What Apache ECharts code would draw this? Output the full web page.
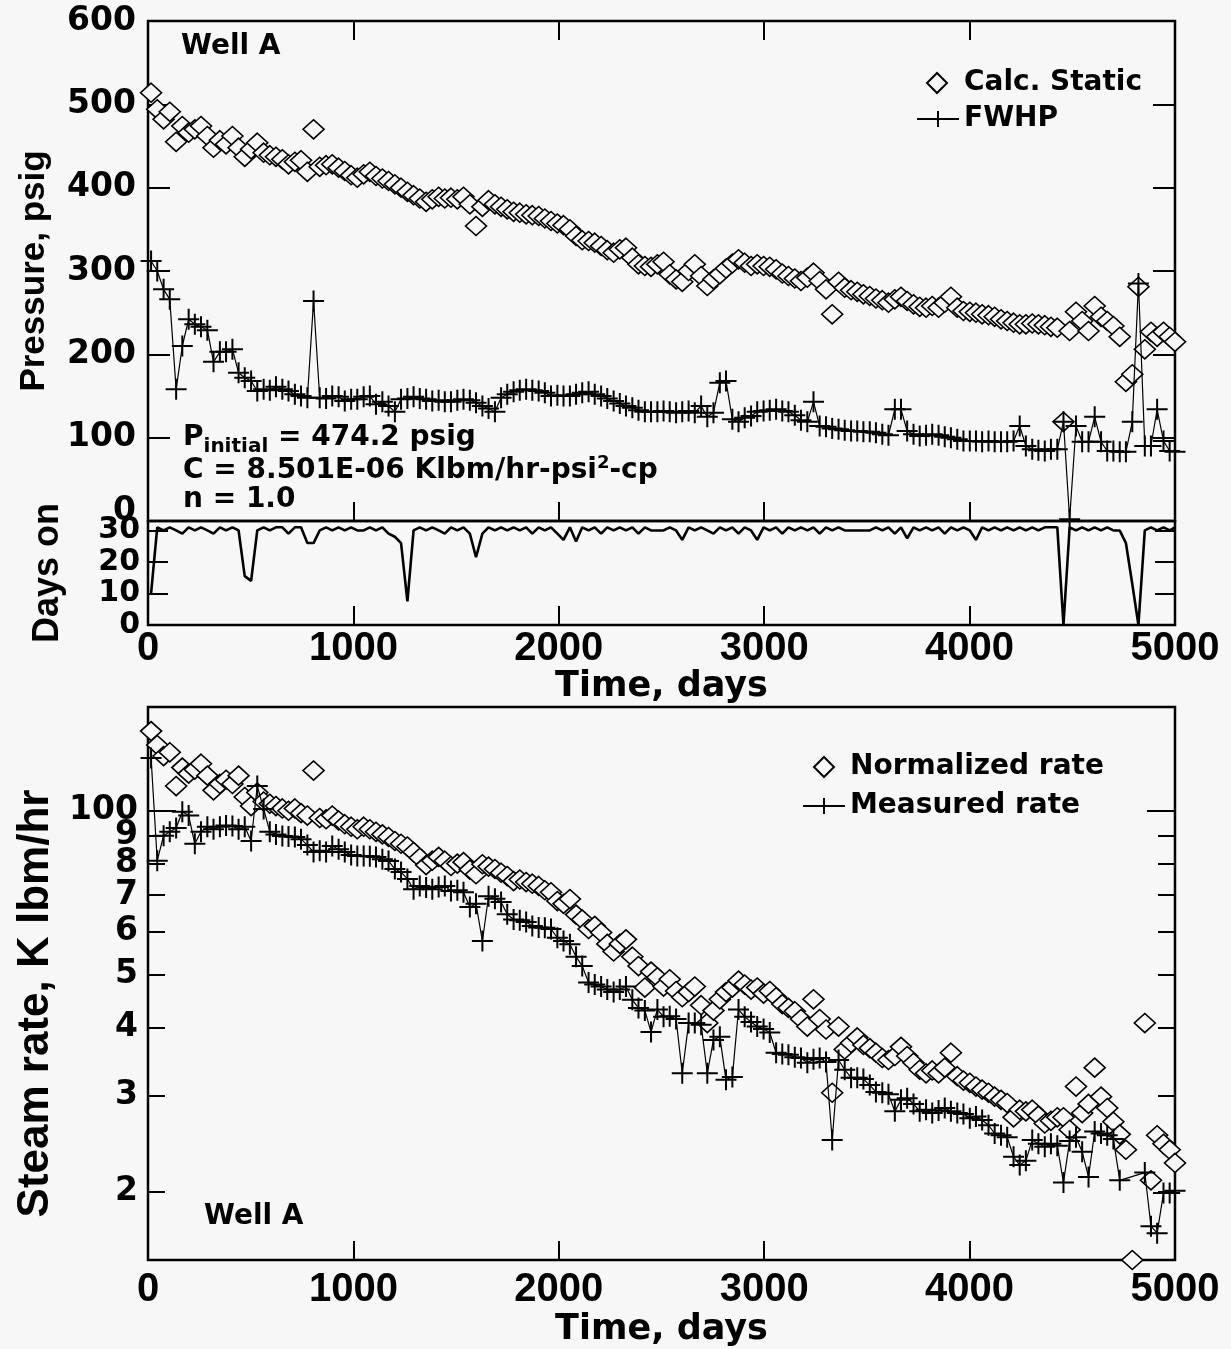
<!DOCTYPE html>
<html>
<head>
<meta charset="utf-8">
<title>Well A - pressure, days on and steam rate</title>
<script src="https://cdn.jsdelivr.net/npm/echarts@6/dist/echarts.min.js"></script>
<style>
  html, body { margin: 0; padding: 0; background: #f7f7f7; }
  #chart { width: 1231px; height: 1349px; }
</style>
</head>
<body>
<div id="chart"></div>
<script>
// monthly sample times, days since start
const days = [
  15, 45, 76, 106, 137, 167, 198, 228, 258, 289,
  319, 350, 380, 411, 441, 471, 502, 532, 563, 593,
  623, 654, 684, 715, 745, 776, 806, 836, 867, 897,
  928, 958, 989, 1019, 1050, 1080, 1110, 1141, 1171, 1202,
  1232, 1263, 1293, 1323, 1354, 1384, 1415, 1445, 1475, 1506,
  1536, 1567, 1597, 1628, 1658, 1689, 1719, 1749, 1780, 1810,
  1841, 1871, 1902, 1932, 1962, 1993, 2023, 2054, 2084, 2114,
  2145, 2175, 2206, 2236, 2267, 2297, 2327, 2358, 2388, 2419,
  2449, 2480, 2510, 2540, 2571, 2601, 2632, 2662, 2693, 2723,
  2753, 2784, 2814, 2845, 2875, 2905, 2936, 2966, 2997, 3027,
  3058, 3088, 3118, 3149, 3179, 3210, 3240, 3270, 3301, 3331,
  3362, 3392, 3423, 3453, 3483, 3514, 3544, 3575, 3605, 3636,
  3666, 3696, 3727, 3757, 3788, 3818, 3849, 3879, 3909, 3940,
  3970, 4001, 4031, 4061, 4092, 4122, 4153, 4183, 4214, 4244,
  4274, 4305, 4335, 4366, 4396, 4427, 4457, 4487, 4518, 4548,
  4579, 4609, 4640, 4670, 4700, 4731, 4761, 4792, 4822, 4853,
  4883, 4913, 4944, 4974, 5000
];

// calculated static pressure, psig
const staticP = [
  514, 494, 482, 491, 455, 474, 466, 470, 474, 462,
  448, 457, 452, 462, 448, 437, 446, 454, 442, 439,
  437, 434, 428, 431, 433, 419, 470, 425, 427, 428,
  424, 420, 415, 412, 416, 419, 414, 411, 408, 404,
  400, 395, 391, 387, 383, 386, 389, 387, 388, 386,
  389, 380, 354, 377, 385, 380, 377, 374, 371, 370,
  368, 367, 366, 363, 360, 357, 355, 350, 342, 337,
  336, 334, 330, 325, 322, 326, 328, 316, 308, 306,
  305, 308, 311, 296, 290, 287, 300, 308, 294, 282,
  290, 296, 303, 309, 314, 310, 306, 308, 306, 305,
  302, 297, 294, 291, 288, 292, 298, 288, 278, 248,
  287, 280, 277, 275, 272, 270, 267, 265, 262, 266,
  269, 264, 260, 257, 256, 258, 256, 262, 269, 256,
  252, 251, 250, 248, 247, 245, 242, 240, 238, 236,
  236, 237, 236, 235, 233, 232, 119, 228, 251, 240,
  228, 258, 245, 240, 234, 221, 167, 176, 281, 206,
  227, 221, 227, 221, 215
];

// flowing wellhead pressure, psig
const fwhp = [
  312, 300, 278, 266, 158, 210, 242, 236, 233, 229,
  191, 203, 203, 206, 178, 172, 168, 156, 158, 157,
  161, 158, 156, 152, 150, 148, 264, 148, 147, 150,
  149, 144, 146, 146, 149, 150, 140, 143, 138, 131,
  146, 147, 149, 147, 146, 144, 145, 143, 143, 145,
  146, 145, 142, 138, 135, 131, 148, 152, 155, 157,
  158, 157, 156, 154, 150, 151, 150, 150, 152, 154,
  155, 152, 150, 147, 144, 141, 138, 136, 133, 131,
  131, 131, 132, 131, 130, 131, 132, 130, 138, 125,
  130, 166, 168, 122, 119, 124, 126, 131, 132, 133,
  134, 132, 131, 127, 121, 119, 143, 114, 113, 111,
  110, 109, 108, 108, 107, 107, 106, 104, 103, 134,
  134, 108, 104, 102, 103, 104, 103, 101, 100, 98,
  96, 96, 96, 95, 96, 95, 95, 95, 96, 114,
  90, 86, 85, 84, 86, 86, 119, 2, 114, 95,
  95, 125, 95, 84, 84, 83, 83, 119, 285, 90,
  90, 134, 96, 84, 83
];

// days on production per month
const daysOn = [
  10, 31, 30, 31, 30, 29, 31, 30, 31, 30,
  29, 31, 30, 31, 30, 15.5, 14, 30, 31, 30,
  31, 31, 29, 31, 31, 26, 26, 30, 31, 30,
  31, 30, 31, 30, 30, 31, 30, 31, 29, 28,
  26, 7.5, 30, 31, 30, 31, 30, 29, 31, 30,
  31, 29, 21.5, 29, 31, 30, 31, 30, 31, 30,
  31, 29, 31, 30, 31, 29, 27, 31, 26.5, 31,
  30, 31, 29, 31, 30, 31, 30, 31, 29, 31,
  30, 30, 30, 31, 30, 27, 31, 30, 31, 30,
  29, 31, 30, 31, 29, 31, 30, 27, 31, 30,
  31, 29, 31, 30, 31, 30, 31, 29, 31, 30,
  31, 30, 30, 30, 30, 30, 31, 30, 31, 29,
  31, 27.5, 31, 30, 31, 30, 31, 29, 31, 30,
  31, 30, 27, 31, 30, 31, 30, 31, 30, 31,
  30, 31, 30, 31, 31, 31, 0, 31, 30, 31,
  30, 31, 30, 31, 30, 30, 26, 13, 0, 30,
  31, 30, 31, 30, 31
];

// normalized steam rate, K lbm/hr
const normRate = [
  140, 132, 126, 128, 111, 120, 117, 119, 122, 116,
  109, 112, 114, 112, 116, 106, 102, 108, 104, 103,
  102, 101, 100, 101, 99, 98, 118.5, 97, 96.5, 98,
  96, 94.5, 93.5, 92.5, 93.5, 92.5, 91.5, 90.5, 89.5, 88,
  87, 86, 84, 82, 79.5, 81, 82.3, 81, 79.2, 80,
  80.5, 78, 76.5, 79.8, 79, 78.2, 77, 75.9, 74.3, 74.8,
  74, 73.5, 72.8, 71.5, 70.9, 68.3, 67.5, 68.9, 64.5, 63.2,
  60.7, 61.5, 59.8, 57, 55.2, 57, 58.1, 54, 51.9, 47.4,
  50.7, 49.5, 47.6, 49.1, 46.7, 45.5, 46.5, 47.6, 44, 40.8,
  43, 45.1, 46.5, 47.4, 48.8, 48, 47, 47.4, 46.2, 46.7,
  45.5, 44.2, 43.5, 42.9, 41.5, 40.2, 45.1, 41.5, 39.7, 30.4,
  40.2, 36.5, 37.5, 38.4, 37.2, 36.7, 36, 35.2, 34.9, 35.5,
  36.9, 35.5, 34.5, 33.5, 33, 33.4, 33, 33.8, 36, 32.6,
  32, 31.7, 31.2, 30.8, 30.4, 29.9, 29.5, 29.1, 27.4, 28.3,
  28.1, 28.3, 27.6, 26.7, 27, 27.4, 27.4, 26, 31.2, 27.9,
  29, 33.8, 29.9, 28.5, 26.9, 25.5, 23.9, 15, null, 40.8,
  21, 25.4, 24.5, 23.9, 22.6
];

// measured steam rate, K lbm/hr
const measRate = [
  125, 81, 90, 91.5, 93, 99.6, 98, 87, 91.5, 93.5,
  92.5, 93.5, 94, 93.8, 92.5, 93.5, 88, 111, 100.8, 91.5,
  90.5, 89.9, 89.7, 89.5, 88.7, 86.5, 84, 84.5, 84, 86.2,
  85, 84, 83, 82.6, 82.6, 82.5, 82.3, 81.5, 80.9, 78.2,
  77.2, 75, 71.8, 72.8, 72.3, 71.8, 72.5, 72.8, 71.3, 71.5,
  70.9, 66.6, 67.5, 57.7, 69.7, 69, 68, 64.6, 63.2, 63,
  62.5, 61.5, 61.1, 61, 60.7, 58.5, 57.7, 56.9, 54, 51.9,
  48.4, 48, 47.6, 47, 46.5, 47, 47.6, 45, 43.5, 43,
  39.3, 43.2, 41.9, 42, 41.5, 33, 40.8, 40.8, 40.5, 33,
  38, 38.5, 32.1, 32.5, 43.2, 41.9, 41, 40.2, 39.8, 39.2,
  36, 35.8, 35.7, 35.3, 35.2, 34.5, 35, 35.2, 34.6, 24.9,
  34.9, 33.5, 32.4, 32.4, 32.2, 31.4, 30.5, 30.4, 30.2, 28.1,
  29.5, 29.7, 29, 28.1, 28.3, 27.9, 28.2, 28.5, 28.1, 27.9,
  27.8, 27.3, 27.5, 27.1, 26.5, 25.6, 25.4, 25.2, 23.2, 22.4,
  22.8, 24.9, 24.5, 24.2, 24.5, 24.3, 20.8, 24.8, 25.2, 23.7,
  21.3, 25.8, 25.6, 25.4, 25, 21, null, null, null, 21.7,
  17.3, 16.8, 19.9, 19.9, 20.1
];

const timeTicks = [1000, 2000, 3000, 4000];
const pressureTicks = [100, 200, 300, 400, 500];
const daysOnTicks = [0, 10, 20, 30];
const rateTicks = [20, 30, 40, 50, 60, 70, 80, 90, 100];
// a blank label above the top tick keeps 100 from being the axis' last label
const rateLabelValues = [20, 30, 40, 50, 60, 70, 80, 90, 100, 150];

const INK = '#000';
const BG = '#f7f7f7';
const BOLD = 'bold';
const WIDE = 'DejaVu Sans';
const PLAIN = 'Liberation Sans';
const CROSS = 'path://M0,10L20,10M10,0L10,20';

const pairs = vals => days.map((d, i) => [d, vals[i]]);

const tick = (len, values) => ({
  show: true, inside: true, length: len,
  customValues: values,
  lineStyle: { color: INK, width: 2 }
});
const noLine = { show: false, onZero: false };

const grids = [
  { left: 148, top: 21, width: 1027, height: 500 },
  { left: 148, top: 521, width: 1027, height: 104 },
  { left: 148, top: 707, width: 1027, height: 553 }
].map(g => Object.assign(g, { show: true, borderColor: INK, borderWidth: 2.5, backgroundColor: 'transparent' }));

const timeAxis = (grid, extra) => Object.assign({
  type: 'value', gridIndex: grid, min: 0, max: 5000, interval: 1000,
  axisLine: noLine, splitLine: { show: false },
  axisTick: tick(19, timeTicks),
  axisLabel: { show: false }
}, extra);

const timeLabels = (margin, nameGap) => ({
  axisLabel: {
    show: true, margin, color: INK, fontFamily: PLAIN, fontWeight: BOLD, fontSize: 40,
    hideOverlap: false, showMinLabel: true, showMaxLabel: true, formatter: v => String(v)
  },
  name: 'Time, days', nameLocation: 'middle', nameGap,
  nameTextStyle: { color: INK, fontFamily: WIDE, fontWeight: BOLD, fontSize: 35 }
});

const yName = (text, gap, size, pad) => ({
  name: text, nameLocation: 'middle', nameRotate: 90, nameGap: gap,
  nameTextStyle: { color: INK, fontFamily: PLAIN, fontWeight: BOLD, fontSize: size, padding: pad || 0 }
});

const numStyle = size => ({ color: INK, fontFamily: WIDE, fontWeight: BOLD, fontSize: size });
const legendText = pad => ({ color: INK, fontFamily: WIDE, fontWeight: BOLD, fontSize: 28, padding: [0, 0, 0, pad] });

const logAxis = (position, len, values) => ({
  type: 'log', gridIndex: 2, position, min: 15, max: 155, logBase: 10,
  axisLine: noLine, splitLine: { show: false },
  axisTick: tick(len, values), axisLabel: { show: false }
});

const rateLabel = v => {
  const r = Math.round(v);
  if (r > 100) return '';
  return r === 100 ? '100' : String(Math.round(v / 10));
};

const option = {
  backgroundColor: BG,
  animation: false,
  textStyle: { fontFamily: WIDE, color: INK },
  grid: grids,
  xAxis: [
    timeAxis(0, { position: 'bottom' }),
    timeAxis(0, { position: 'top' }),
    timeAxis(1, Object.assign({ position: 'bottom' }, timeLabels(4, 44))),
    timeAxis(2, Object.assign({ position: 'bottom' }, timeLabels(10, 52)))
  ],
  yAxis: [
    Object.assign({
      type: 'value', gridIndex: 0, position: 'left', min: 0, max: 600, interval: 100,
      axisLine: noLine, splitLine: { show: false },
      axisTick: tick(22, pressureTicks),
      axisLabel: Object.assign(numStyle(33), {
        margin: 12, hideOverlap: false, showMinLabel: true, showMaxLabel: true,
        formatter: v => (v === 0 ? '{low|0}' : String(v)),
        rich: { low: Object.assign(numStyle(33), { padding: [0, 0, 20, 0] }) }
      })
    }, yName('Pressure, psig', 96, 35)),
    {
      type: 'value', gridIndex: 0, position: 'right', min: 0, max: 600, interval: 100,
      axisLine: noLine, splitLine: { show: false },
      axisTick: tick(22, pressureTicks), axisLabel: { show: false }
    },
    Object.assign({
      type: 'value', gridIndex: 1, position: 'left', min: 0, max: 33,
      axisLine: noLine, splitLine: { show: false },
      axisTick: tick(20, daysOnTicks),
      axisLabel: Object.assign(numStyle(30), {
        customValues: daysOnTicks, margin: 8, lineHeight: 22,
        hideOverlap: false, showMinLabel: true, showMaxLabel: true
      })
    }, yName('Days on', 82, 36)),
    {
      type: 'value', gridIndex: 1, position: 'right', min: 0, max: 33,
      axisLine: noLine, splitLine: { show: false },
      axisTick: tick(20, daysOnTicks), axisLabel: { show: false }
    },
    Object.assign(logAxis('left', 17, rateTicks.slice(0, 8)), {
      axisLabel: Object.assign(numStyle(33), {
        show: true, customValues: rateLabelValues, margin: 10, lineHeight: 22,
        hideOverlap: false, formatter: rateLabel
      })
    }, yName('Steam rate, K lbm/hr', 82, 44, [0, 40, 0, 0])),
    logAxis('left', 28, [100]),
    logAxis('right', 17, rateTicks.slice(0, 8)),
    logAxis('right', 28, [100])
  ],
  legend: [
    {
      data: ['Calc. Static'], left: 921, top: 64, itemWidth: 20, itemHeight: 20,
      selectedMode: false, textStyle: legendText(12)
    },
    {
      data: ['FWHP'], left: 911, top: 100, itemWidth: 42, itemHeight: 20,
      selectedMode: false, textStyle: legendText(0)
    },
    {
      data: ['Normalized rate'], left: 808, top: 748, itemWidth: 20, itemHeight: 20,
      selectedMode: false, textStyle: legendText(11)
    },
    {
      data: ['Measured rate'], left: 797, top: 787, itemWidth: 42, itemHeight: 20,
      selectedMode: false, textStyle: legendText(0)
    }
  ],
  graphic: [
    { type: 'text', x: 181, y: 47, style: { text: 'Well A', fill: INK, font: 'bold 28px "DejaVu Sans"', verticalAlign: 'middle' } },
    { type: 'text', x: 204, y: 1217, style: { text: 'Well A', fill: INK, font: 'bold 28px "DejaVu Sans"', verticalAlign: 'middle' } },
    {
      type: 'text', x: 183, y: 438,
      style: {
        text: '{m|P}{sub|initial}{m| = 474.2 psig}', verticalAlign: 'middle',
        rich: {
          m: { fill: INK, fontFamily: WIDE, fontWeight: BOLD, fontSize: 28, lineHeight: 38 },
          sub: { fill: INK, fontFamily: WIDE, fontWeight: BOLD, fontSize: 20, lineHeight: 20, verticalAlign: 'bottom' }
        }
      }
    },
    {
      type: 'text', x: 183, y: 471,
      style: {
        text: '{m|C = 8.501E-06 Klbm/hr-psi}{sup|2}{m|-cp}', verticalAlign: 'middle',
        rich: {
          m: { fill: INK, fontFamily: WIDE, fontWeight: BOLD, fontSize: 28, lineHeight: 34 },
          sup: { fill: INK, fontFamily: WIDE, fontWeight: BOLD, fontSize: 18, lineHeight: 18, verticalAlign: 'top' }
        }
      }
    },
    { type: 'text', x: 183, y: 500, style: { text: 'n = 1.0', fill: INK, font: 'bold 28px "DejaVu Sans"', verticalAlign: 'middle' } }
  ],
  series: [
    {
      name: 'Calc. Static', type: 'scatter', xAxisIndex: 0, yAxisIndex: 0,
      data: pairs(staticP), symbol: 'diamond', symbolSize: [21, 19], clip: false,
      itemStyle: { color: BG, borderColor: INK, borderWidth: 1.6, opacity: 1 }
    },
    {
      name: 'FWHP', type: 'line', xAxisIndex: 0, yAxisIndex: 0,
      data: pairs(fwhp), symbol: CROSS, symbolSize: 21, showSymbol: true, showAllSymbol: true,
      lineStyle: { color: INK, width: 1.2 },
      itemStyle: { color: INK, borderColor: INK, borderWidth: 2 }
    },
    {
      name: 'Days on', type: 'line', xAxisIndex: 2, yAxisIndex: 2,
      data: pairs(daysOn), showSymbol: false, symbol: 'none',
      lineStyle: { color: INK, width: 2.6 }
    },
    {
      name: 'Normalized rate', type: 'scatter', xAxisIndex: 3, yAxisIndex: 4,
      data: pairs(normRate).filter(p => p[1] != null), symbol: 'diamond', symbolSize: [21, 19], clip: false,
      itemStyle: { color: BG, borderColor: INK, borderWidth: 1.6, opacity: 1 }
    },
    {
      name: 'Measured rate', type: 'line', xAxisIndex: 3, yAxisIndex: 4,
      data: pairs(measRate).filter(p => p[1] != null), symbol: CROSS, symbolSize: 21,
      showSymbol: true, showAllSymbol: true,
      lineStyle: { color: INK, width: 1.2 },
      itemStyle: { color: INK, borderColor: INK, borderWidth: 2 }
    }
  ]
};

const chart = echarts.init(document.getElementById('chart'), null, { renderer: 'canvas' });
chart.setOption(option);
</script>
</body>
</html>
